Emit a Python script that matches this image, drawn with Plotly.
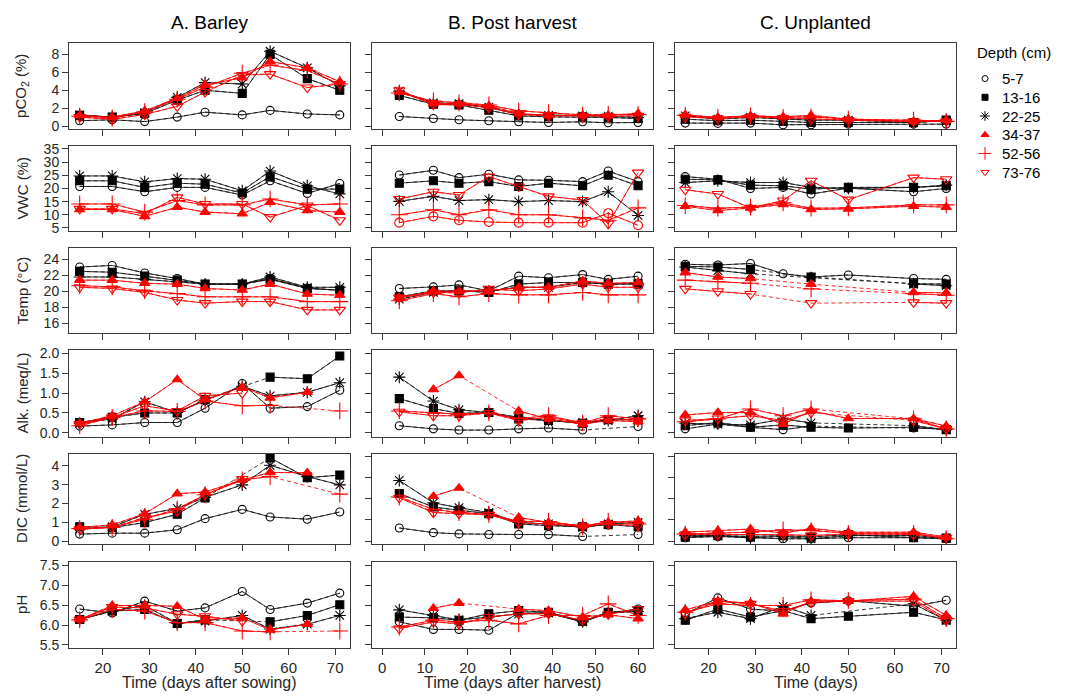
import plotly.graph_objects as go

# ---------------- data ----------------
depths = ["5-7", "13-16", "22-25", "34-37", "52-56", "73-76"]

days_barley = [15, 22, 29, 36, 42, 50, 56, 64, 71]
days_post = [4, 12, 18, 25, 32, 39, 47, 53, 60]
days_unpl = [15, 22, 29, 36, 42, 50, 64, 71]

col_titles = ["A. Barley", "B. Post harvest", "C. Unplanted"]
x_titles = ["Time (days after sowing)", "Time (days after harvest)", "Time (days)"]
y_titles = ["pCO<sub>2</sub> (%)", "VWC (%)", "Temp (°C)", "Alk. (meq/L)", "DIC (mmol/L)", "pH"]
legend_title = "Depth (cm)"

x_ticks_barley = [20, 30, 40, 50, 60, 70]
x_ticks_post = [0, 10, 20, 30, 40, 50, 60]
x_ticks_unpl = [20, 30, 40, 50, 60, 70]

y_ticks_pco2 = [0, 2, 4, 6, 8]
y_ticks_vwc = [5, 10, 15, 20, 25, 30, 35]
y_ticks_temp = [16, 18, 20, 22, 24]
y_ticks_alk = [0.0, 0.5, 1.0, 1.5, 2.0]
y_ticks_dic = [0, 1, 2, 3, 4]
y_ticks_ph = [5.5, 6.0, 6.5, 7.0, 7.5]

pco2_barley = {
    "5-7":   [0.6, 0.7, 0.5, 1.0, 1.55, 1.25, 1.75, 1.35, 1.25],
    "13-16": [1.2, 1.0, 1.4, 2.9, 4.0, 3.65, 8.0, 5.3, 4.0],
    "22-25": [1.25, 1.0, 1.5, 3.2, 4.85, 4.7, 8.35, 6.5, 4.5],
    "34-37": [1.2, 1.0, 1.7, 3.1, 4.6, 5.4, 7.2, 6.5, 4.95],
    "52-56": [1.1, 0.9, 1.6, 3.0, 4.35, 5.9, 6.8, 6.2, 4.7],
    "73-76": [1.0, 0.75, 1.3, 2.2, 3.8, 5.7, 5.8, 4.3, 4.7],
}
pco2_post = {
    "5-7":   [1.07, 0.85, 0.7, 0.59, 0.48, 0.4, 0.48, 0.37, 0.4],
    "13-16": [3.43, 2.43, 2.36, 1.77, 1.14, 1.03, 1.03, 0.96, 0.85],
    "22-25": [3.9, 2.6, 2.5, 2.1, 1.3, 1.2, 1.15, 1.1, 0.96],
    "34-37": [3.8, 2.5, 2.5, 2.25, 1.4, 1.2, 1.2, 1.2, 1.4],
    "52-56": [3.7, 2.8, 2.6, 2.35, 1.7, 1.5, 1.25, 1.3, 1.3],
    "73-76": [4.0, 2.4, 2.4, 2.05, 1.3, 1.15, 1.15, 1.1, 1.15],
}
pco2_unpl = {
    "5-7":   [0.33, 0.3, 0.33, 0.15, 0.15, 0.22, 0.22, 0.22],
    "13-16": [0.77, 0.6, 0.66, 0.52, 0.4, 0.4, 0.4, 0.66],
    "22-25": [1.15, 0.77, 0.96, 0.77, 0.66, 0.66, 0.4, 0.6],
    "34-37": [1.25, 0.96, 1.15, 1.03, 1.2, 0.77, 0.52, 0.66],
    "52-56": [1.2, 0.96, 1.15, 0.96, 1.03, 0.77, 0.66, 0.52],
    "73-76": [1.03, 0.85, 1.03, 0.9, 0.77, 0.66, 0.52, 0.52],
}

vwc_barley = {
    "5-7":   [20.75, 20.75, 18.75, 20.4, 20.4, 17.5, 22.9, 18.1, 21.9],
    "13-16": [22.9, 22.9, 20.4, 22.0, 21.6, 18.25, 24.5, 19.75, 19.75],
    "22-25": [24.75, 24.75, 22.5, 23.75, 23.5, 19.1, 26.6, 21.0, 17.9],
    "34-37": [12.0, 12.0, 9.4, 12.9, 11.0, 10.4, 14.75, 11.6, 11.0],
    "52-56": [14.1, 14.1, 11.0, 15.4, 13.75, 13.75, 16.0, 13.75, 14.1],
    "73-76": [12.25, 12.25, 10.4, 16.6, 14.1, 14.1, 9.1, 13.5, 7.9],
}
vwc_post = {
    "5-7":   [25.1, 26.9, 24.1, 25.4, 23.25, 23.1, 22.6, 26.6, 22.6],
    "13-16": [22.0, 22.9, 22.0, 22.6, 20.75, 22.0, 21.0, 25.0, 21.0],
    "22-25": [15.1, 17.0, 15.4, 15.75, 15.0, 15.4, 15.0, 18.75, 9.75],
    "34-37": [7.0, 9.4, 7.9, 7.25, 7.0, 7.0, 7.0, 10.6, 6.0],
    "52-56": [10.0, 11.9, 10.0, 11.9, 10.0, 10.0, 8.9, 7.9, 12.6],
    "73-76": [16.0, 18.75, 17.5, 24.5, 20.75, 17.0, 15.6, 6.6, 26.0],
}
vwc_unpl = {
    "5-7":   [24.5, 23.5, 20.0, 20.4, 17.9, 20.1, 18.75, 20.0],
    "13-16": [23.5, 23.25, 21.25, 21.0, 19.75, 20.4, 20.4, 21.0],
    "22-25": [22.25, 22.9, 22.25, 22.25, 20.4, 20.0, 20.4, 21.25],
    "34-37": [13.25, 11.6, 12.6, 13.9, 12.0, 12.25, 13.25, 12.9],
    "52-56": [13.5, 12.5, 12.9, 14.5, 12.5, 12.6, 13.75, 13.75],
    "73-76": [19.5, 17.9, 12.6, 15.4, 22.9, 15.75, 24.1, 23.5],
}

temp_barley = {
    "5-7":   [23.05, 23.25, 22.3, 21.6, 20.9, 20.9, 21.6, 20.4, 20.1],
    "13-16": [22.5, 22.4, 21.9, 21.4, 20.9, 20.9, 21.5, 20.35, 20.15],
    "22-25": [21.8, 21.8, 21.5, 21.2, 20.9, 20.9, 21.8, 20.5, 20.5],
    "34-37": [21.4, 21.4, 21.0, 20.9, 20.35, 20.15, 20.9, 19.65, 19.5],
    "52-56": [20.7, 20.55, 20.05, 19.7, 19.3, 19.3, 19.3, 18.7, 18.7],
    "73-76": [20.5, 20.35, 19.85, 18.9, 18.5, 18.7, 18.7, 17.65, 17.65],
}
temp_post = {
    "5-7":   [20.35, 20.55, 20.8, 20.05, 21.9, 21.7, 22.1, 21.5, 21.9],
    "13-16": [19.3, 20.05, 20.05, 19.85, 20.9, 21.1, 21.1, 20.9, 20.9],
    "22-25": [19.0, 19.85, 20.05, 20.0, 20.5, 20.5, 21.1, 20.9, 21.0],
    "34-37": [19.2, 20.0, 20.0, 20.05, 20.5, 20.5, 21.3, 21.0, 21.1],
    "52-56": [18.8, 19.7, 19.3, 19.7, 19.55, 19.55, 19.85, 19.55, 19.55],
    "73-76": [19.2, 19.85, 19.8, 20.3, 20.05, 20.3, 20.9, 20.5, 20.5],
}
temp_unpl = {
    "5-7":   [23.4, 23.3, 23.5, 22.2, 21.8, 22.05, 21.6, 21.5],
    "13-16": [23.15, 23.05, 22.75, None, 21.8, None, 20.95, 20.9],
    "22-25": [23.05, 22.6, 22.2, None, 21.7, None, 20.9, 20.7],
    "34-37": [22.35, 21.8, 21.6, None, 20.9, None, 19.85, 19.8],
    "52-56": [21.4, 21.2, 21.0, None, 20.3, None, 19.7, 19.5],
    "73-76": [20.3, 20.0, 19.65, None, 18.5, None, 18.6, 18.5],
}

alk_barley = {
    "5-7":   [0.17, 0.2, 0.26, 0.26, 0.62, 1.24, 0.62, 0.66, 1.07],
    "13-16": [0.26, 0.39, 0.5, 0.5, 0.84, None, 1.4, 1.36, 1.93],
    "22-25": [0.24, 0.35, 0.78, 0.51, 0.82, 1.17, 0.93, 1.02, 1.26],
    "34-37": [0.24, 0.43, 0.78, 1.34, 0.83, 1.15, 0.88, 1.02, None],
    "52-56": [0.18, 0.39, 0.55, 0.54, 0.8, 0.68, 0.69, None, 0.55],
    "73-76": [0.22, 0.39, 0.68, 0.55, 0.93, 1.0, None, None, None],
}
alk_post = {
    "5-7":   [0.18, 0.1, 0.07, 0.07, 0.1, 0.12, 0.07, None, 0.16],
    "13-16": [0.86, 0.61, 0.49, 0.51, 0.35, 0.31, 0.24, 0.33, 0.33],
    "22-25": [1.4, 0.8, 0.58, 0.51, 0.39, 0.31, 0.26, 0.31, 0.43],
    "34-37": [None, 1.09, 1.44, None, 0.55, 0.35, 0.22, 0.31, 0.28],
    "52-56": [0.55, 0.51, 0.47, 0.5, 0.36, 0.43, 0.25, 0.43, 0.35],
    "73-76": [0.53, 0.43, 0.43, 0.5, 0.31, 0.39, 0.25, 0.36, 0.31],
}
alk_unpl = {
    "5-7":   [0.1, 0.22, 0.14, 0.08, 0.17, None, 0.12, 0.1],
    "13-16": [0.18, 0.26, 0.14, 0.2, 0.14, 0.12, 0.14, 0.08],
    "22-25": [0.24, 0.22, 0.2, 0.35, 0.25, None, 0.18, 0.08],
    "34-37": [0.45, 0.51, 0.51, 0.22, 0.55, 0.36, 0.36, 0.17],
    "52-56": [0.28, 0.35, 0.6, 0.43, 0.6, None, 0.35, 0.1],
    "73-76": [0.31, 0.36, 0.43, 0.31, 0.51, None, 0.31, 0.1],
}

dic_barley = {
    "5-7":   [0.38, 0.43, 0.43, 0.61, 1.2, 1.69, 1.29, 1.17, 1.55],
    "13-16": [0.77, 0.73, 0.99, 1.43, 2.3, None, 4.42, 3.37, 3.51],
    "22-25": [0.64, 0.77, 1.43, 1.74, 2.33, 2.99, 4.03, 3.43, 2.99],
    "34-37": [0.73, 0.87, 1.46, 2.52, 2.61, 3.25, 3.65, 3.63, None],
    "52-56": [0.68, 0.73, 1.17, 1.72, 2.47, 3.25, 3.43, None, 2.5],
    "73-76": [0.64, 0.73, 1.25, 1.6, 2.47, 3.3, None, None, None],
}
dic_post = {
    "5-7":   [0.62, 0.4, 0.34, 0.31, 0.31, 0.31, 0.22, None, 0.31],
    "13-16": [2.25, 1.61, 1.46, 1.3, 0.81, 0.73, 0.68, 0.78, 0.68],
    "22-25": [2.87, 1.81, 1.58, 1.35, 0.88, 0.81, 0.65, 0.81, 0.88],
    "34-37": [None, 2.12, 2.51, None, 1.12, 0.88, 0.73, 0.88, 0.96],
    "52-56": [2.08, 1.5, 1.35, 1.27, 0.93, 0.93, 0.68, 0.93, 0.81],
    "73-76": [2.05, 1.35, 1.3, 1.24, 0.88, 0.78, 0.7, 0.81, 0.73],
}
dic_unpl = {
    "5-7":   [0.16, 0.22, 0.16, 0.11, 0.11, 0.16, 0.16, 0.11],
    "13-16": [0.19, 0.26, 0.22, 0.26, 0.19, 0.31, 0.16, 0.14],
    "22-25": [0.26, 0.26, 0.16, 0.22, 0.11, 0.26, 0.26, 0.14],
    "34-37": [0.42, 0.5, 0.57, 0.37, 0.6, 0.42, 0.42, 0.19],
    "52-56": [0.34, 0.37, 0.42, 0.53, 0.5, 0.37, 0.37, 0.11],
    "73-76": [0.31, 0.31, 0.34, 0.31, 0.26, 0.34, 0.31, 0.16],
}

ph_barley = {
    "5-7":   [6.4, 6.3, 6.6, 6.35, 6.43, 6.84, 6.39, 6.55, 6.8],
    "13-16": [6.14, 6.35, 6.39, 6.04, 6.13, None, 6.08, 6.24, 6.51],
    "22-25": [6.14, 6.35, 6.49, 6.04, 6.1, 6.24, 5.9, 6.02, 6.24],
    "34-37": [6.14, 6.49, 6.49, 6.47, 6.14, 6.18, 5.88, 6.02, None],
    "52-56": [6.13, 6.39, 6.35, 6.06, 6.06, 5.85, 5.83, None, 5.85],
    "73-76": [6.14, 6.45, 6.43, 6.27, 6.22, 6.1, None, None, None],
}
ph_post = {
    "5-7":   [6.08, 5.89, 5.89, 5.87, 6.3, 6.3, 6.08, 6.3, 6.4],
    "13-16": [6.2, 6.18, 6.12, 6.28, 6.36, 6.32, 6.1, 6.32, 6.36],
    "22-25": [6.38, 6.24, 6.13, 6.2, 6.28, 6.3, 6.08, 6.3, 6.34],
    "34-37": [None, 6.42, 6.55, None, 6.4, 6.36, 6.2, 6.26, 6.16],
    "52-56": [5.95, 6.12, 6.08, 6.12, 6.03, 6.24, 6.24, 6.53, 6.24],
    "73-76": [5.91, 6.08, 6.03, 6.2, 6.28, 6.28, 6.12, 6.27, 6.4],
}
ph_unpl = {
    "5-7":   [6.28, 6.68, 6.4, 6.35, 6.55, 6.61, 6.47, 6.62],
    "13-16": [6.12, 6.4, 6.2, 6.36, 6.16, 6.22, 6.32, 6.13],
    "22-25": [6.16, 6.32, 6.16, 6.47, 6.24, None, 6.53, 6.12],
    "34-37": [6.38, 6.6, 6.55, 6.28, 6.6, 6.6, 6.72, 6.24],
    "52-56": [6.32, 6.53, 6.49, 6.49, 6.63, 6.61, 6.65, 6.16],
    "73-76": [6.28, 6.6, 6.53, 6.35, 6.57, 6.6, 6.6, 6.12],
}

# ---------------- layout / styling ----------------
W, H = 1066, 697
OFF = 8  # page body margin of the html page
FONT = "Liberation Sans, Arial, sans-serif"
TXT = "#262626"
FRAME = "#3a3a3a"
TICK_SIZE = 14


def fx(px):
    return (px - OFF) / W


def fy(py):
    return (H - (py - OFF)) / H


col_days = [days_barley, days_post, days_unpl]
col_xticks = [x_ticks_barley, x_ticks_post, x_ticks_unpl]
row_yticks = [y_ticks_pco2, y_ticks_vwc, y_ticks_temp, y_ticks_alk, y_ticks_dic, y_ticks_ph]
grid = [
    [pco2_barley, pco2_post, pco2_unpl],
    [vwc_barley, vwc_post, vwc_unpl],
    [temp_barley, temp_post, temp_unpl],
    [alk_barley, alk_post, alk_unpl],
    [dic_barley, dic_post, dic_unpl],
    [ph_barley, ph_post, ph_unpl],
]

col_px = [(69, 350), (372, 653), (675, 956)]
row_px = [(38, 126), (143, 229), (246, 333), (350, 438), (455, 547), (565, 652)]
x_ranges = [[12.7, 73.2], [-2.4, 63.5], [12.8, 73.1]]
y_ranges = [
    [[-0.36, 9.32]] * 3,
    [[3.9, 36.1]] * 3,
    [[14.7, 25.5]] * 3,
    [[-0.1, 2.08]] * 3,
    [[-0.16, 4.65], [-0.15, 4.14], [-0.15, 4.14]],
    [[5.43, 7.58]] * 3,
]
fmt = [None, None, None, "0.1f", None, "0.1f"]

styles = {
    "5-7":   dict(symbol="circle-open", color="#000000", size=8, key=6),
    "13-16": dict(symbol="square", color="#000000", size=8, key=6),
    "22-25": dict(symbol="asterisk-open", color="#000000", size=10, key=8),
    "34-37": dict(symbol="triangle-up", color="#ff0000", size=9, key=7),
    "52-56": dict(symbol="cross-thin-open", color="#ff0000", size=12, key=9),
    "73-76": dict(symbol="triangle-down-open", color="#ff0000", size=10, key=7),
}
line_col = {"#000000": "rgba(20,20,20,0.85)", "#ff0000": "rgba(255,0,0,0.85)"}
# in the post-harvest VWC panel the 34-37 series is drawn with open circles
symbol_override = {(1, 1, "34-37"): "circle-open"}

fig = go.Figure()
layout = {}

for r in range(6):
    for c in range(3):
        k = r * 3 + c + 1
        xa = "x" if k == 1 else f"x{k}"
        ya = "y" if k == 1 else f"y{k}"
        x0, x1 = col_px[c]
        y0, y1 = row_px[r]
        layout["xaxis" if k == 1 else f"xaxis{k}"] = dict(
            domain=[fx(x0), fx(x1)], anchor=ya, range=x_ranges[c],
            tickmode="array", tickvals=col_xticks[c],
            showticklabels=(r == 5), ticks="outside", ticklen=6, tickwidth=1,
            tickcolor=FRAME, showline=True, mirror=True, linecolor=FRAME,
            linewidth=1, showgrid=False, zeroline=False,
            tickfont=dict(family=FONT, size=15, color=TXT),
        )
        yt = row_yticks[r]
        ytxt = [f"{v:.1f}" for v in yt] if fmt[r] else [str(v) for v in yt]
        layout["yaxis" if k == 1 else f"yaxis{k}"] = dict(
            domain=[fy(y1), fy(y0)], anchor=xa, range=y_ranges[r][c],
            tickmode="array", tickvals=yt, ticktext=ytxt,
            showticklabels=(c == 0), ticks="outside", ticklen=6, tickwidth=1,
            tickcolor=FRAME, showline=True, mirror=True, linecolor=FRAME,
            linewidth=1, showgrid=False, zeroline=False,
            tickfont=dict(family=FONT, size=TICK_SIZE, color=TXT),
        )
        data = grid[r][c]
        days = col_days[c]
        for d in depths:
            st = styles[d]
            vals = data[d]
            lc = line_col[st["color"]]
            # dashed connection across missing samples
            px = [x for x, v in zip(days, vals) if v is not None]
            py = [v for v in vals if v is not None]
            fig.add_trace(go.Scatter(
                x=px, y=py, xaxis=xa, yaxis=ya, mode="lines",
                line=dict(color=lc, width=1, dash="4px,3px"),
                showlegend=False, hoverinfo="skip"))
            sym = symbol_override.get((r, c, d), st["symbol"])
            fig.add_trace(go.Scatter(
                x=days, y=vals, xaxis=xa, yaxis=ya, mode="lines+markers",
                connectgaps=False,
                line=dict(color=lc, width=1),
                marker=dict(symbol=sym, size=st["size"], color=st["color"],
                            line=dict(color=st["color"], width=1.1)),
                showlegend=False, name=d))

# ---- legend: key symbols on a hidden axis, labels as text ----
leg_top, leg_step = 65, 19
n = len(depths)
layout["xaxis19"] = dict(domain=[fx(977), fx(993)], range=[0, 1], visible=False,
                         anchor="y19", fixedrange=True)
layout["yaxis19"] = dict(domain=[fy(leg_top + n * leg_step), fy(leg_top)],
                         range=[n - 0.5, -0.5], visible=False, anchor="x19",
                         fixedrange=True)
ann = []
for i, d in enumerate(depths):
    st = styles[d]
    fig.add_trace(go.Scatter(
        x=[0.5], y=[i], xaxis="x19", yaxis="y19", mode="markers",
        marker=dict(symbol=st["symbol"], size=st["key"], color=st["color"],
                    line=dict(color=st["color"], width=1)),
        showlegend=False, hoverinfo="skip", name=d))
    ann.append(dict(text=d, x=fx(1000), y=fy(leg_top + (i + 0.5) * leg_step),
                    xref="paper", yref="paper", xanchor="left", yanchor="middle",
                    showarrow=False, font=dict(family=FONT, size=15, color="#000")))
ann.append(dict(text=legend_title, x=fx(975), y=fy(48), xref="paper", yref="paper",
                xanchor="left", yanchor="middle", showarrow=False,
                font=dict(family=FONT, size=15, color="#000")))

for c in range(3):
    xc = (col_px[c][0] + col_px[c][1]) / 2
    ann.append(dict(text=col_titles[c], x=fx(xc), y=fy(18), xref="paper", yref="paper",
                    xanchor="center", yanchor="middle", showarrow=False,
                    font=dict(family=FONT, size=19, color="#000")))
    ann.append(dict(text=x_titles[c], x=fx(xc), y=fy(687), xref="paper", yref="paper",
                    xanchor="center", yanchor="middle", showarrow=False,
                    font=dict(family=FONT, size=16, color=TXT)))
for r in range(6):
    yc = (row_px[r][0] + row_px[r][1]) / 2
    ann.append(dict(text=y_titles[r], x=fx(22), y=fy(yc), xref="paper", yref="paper",
                    xanchor="center", yanchor="middle", showarrow=False, textangle=-90,
                    font=dict(family=FONT, size=15, color=TXT)))

fig.update_layout(
    width=W, height=H, margin=dict(l=0, r=0, t=0, b=0),
    paper_bgcolor="white", plot_bgcolor="white",
    annotations=ann, showlegend=False,
    **layout,
)

fig.write_html("out.html")
